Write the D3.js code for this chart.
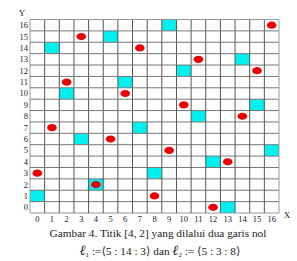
<!DOCTYPE html>
<html lang="id">
<head>
<meta charset="UTF-8">
<script src="https://d3js.org/d3.v7.min.js"></script>
<style>
  body { margin: 0; background: #fff; }
  text { font-family: "Liberation Serif", "DejaVu Serif", serif; }
</style>
</head>
<body>
<svg id="chart" width="297" height="261"></svg>
<script>
// grid indices 0..16 on both axes
const xTicks = d3.range(17);
const yTicks = d3.range(17);

// line l1 = <5 : 14 : 3>, cyan cells
const cyanX = [0, 1, 2, 3, 4, 5, 6, 7, 8, 9, 10, 11, 12, 13, 14, 15, 16];
const cyanY = [1, 14, 10, 6, 2, 15, 11, 7, 3, 16, 12, 8, 4, 0, 13, 9, 5];

// line l2 = <5 : 3 : 8>, red dots
const redX = [0, 1, 2, 3, 4, 5, 6, 7, 8, 9, 10, 11, 12, 13, 14, 15, 16];
const redY = [3, 7, 11, 15, 2, 6, 10, 14, 1, 5, 9, 13, 0, 4, 8, 12, 16];

const caption1 = "Gambar 4. Titik [4, 2] yang dilalui dua garis nol";

const svg = d3.select("#chart");

const x = d3.scaleBand().domain(xTicks).range([30, 279]).padding(0);
const y = d3.scaleBand().domain(yTicks).range([213, 19.5]).padding(0);

// cyan cells
svg.append("g").selectAll("rect")
  .data(cyanX.map((d, i) => [d, cyanY[i]]))
  .enter().append("rect")
  .attr("x", d => x(d[0]))
  .attr("y", d => y(d[1]))
  .attr("width", x.bandwidth())
  .attr("height", y.bandwidth())
  .attr("fill", "#00f0f0");

// grid lines
const grid = svg.append("g").attr("stroke-width", 1);
d3.range(18).forEach(i => {
  const xv = i < 17 ? x(i) : x(16) + x.bandwidth();
  const yv = i < 17 ? y(i) + y.bandwidth() : y(16);
  grid.append("line")
    .attr("x1", xv).attr("x2", xv)
    .attr("y1", y(16)).attr("y2", y(0) + y.bandwidth())
    .attr("stroke", (i == 0 || i == 17) ? "#999" : "#555");
  grid.append("line")
    .attr("y1", yv).attr("y2", yv)
    .attr("x1", x(0)).attr("x2", x(16) + x.bandwidth())
    .attr("stroke", (i == 0 || i == 17) ? "#999" : "#777");
});

// red dots
svg.append("g").selectAll("ellipse")
  .data(redX.map((d, i) => [d, redY[i]]))
  .enter().append("ellipse")
  .attr("cx", d => x(d[0]) + x.bandwidth() / 2)
  .attr("cy", d => y(d[1]) + y.bandwidth() / 2)
  .attr("rx", 4.8)
  .attr("ry", 3.6)
  .attr("fill", "#ee0000");

// tick labels
svg.append("g").selectAll("text")
  .data(xTicks)
  .enter().append("text")
  .attr("x", d => x(d) + x.bandwidth() / 2)
  .attr("y", 222)
  .attr("text-anchor", "middle")
  .attr("font-size", 8.5)
  .attr("fill", "#222")
  .text(d => d);

svg.append("g").selectAll("text")
  .data(yTicks)
  .enter().append("text")
  .attr("x", 28)
  .attr("y", d => y(d) + y.bandwidth() / 2 + 3)
  .attr("text-anchor", "end")
  .attr("font-size", 8.5)
  .attr("fill", "#222")
  .text(d => d);

// axis names
svg.append("text").attr("x", 22).attr("y", 16)
  .attr("text-anchor", "middle").attr("font-size", 9).attr("fill", "#222").text("Y");
svg.append("text").attr("x", 287).attr("y", 218)
  .attr("text-anchor", "middle").attr("font-size", 9).attr("fill", "#222").text("X");

// caption
svg.append("text").attr("x", 158).attr("y", 237)
  .attr("text-anchor", "middle").attr("font-size", 11.3).attr("fill", "#222")
  .text(caption1);

const cap2 = svg.append("text").attr("x", 160).attr("y", 255)
  .attr("text-anchor", "middle").attr("font-size", 11.3).attr("fill", "#222");
cap2.append("tspan").attr("font-style", "italic").attr("font-weight", "bold").attr("font-size", 14).text("ℓ");
cap2.append("tspan").attr("font-size", 7).attr("dy", 2).text("1");
cap2.append("tspan").attr("dy", -2).text(" :=⟨5 : 14 : 3⟩ dan ");
cap2.append("tspan").attr("font-style", "italic").attr("font-weight", "bold").attr("font-size", 14).text("ℓ");
cap2.append("tspan").attr("font-size", 7).attr("dy", 2).text("2");
cap2.append("tspan").attr("dy", -2).text(" := ⟨5 : 3 : 8⟩");
</script>
</body>
</html>
